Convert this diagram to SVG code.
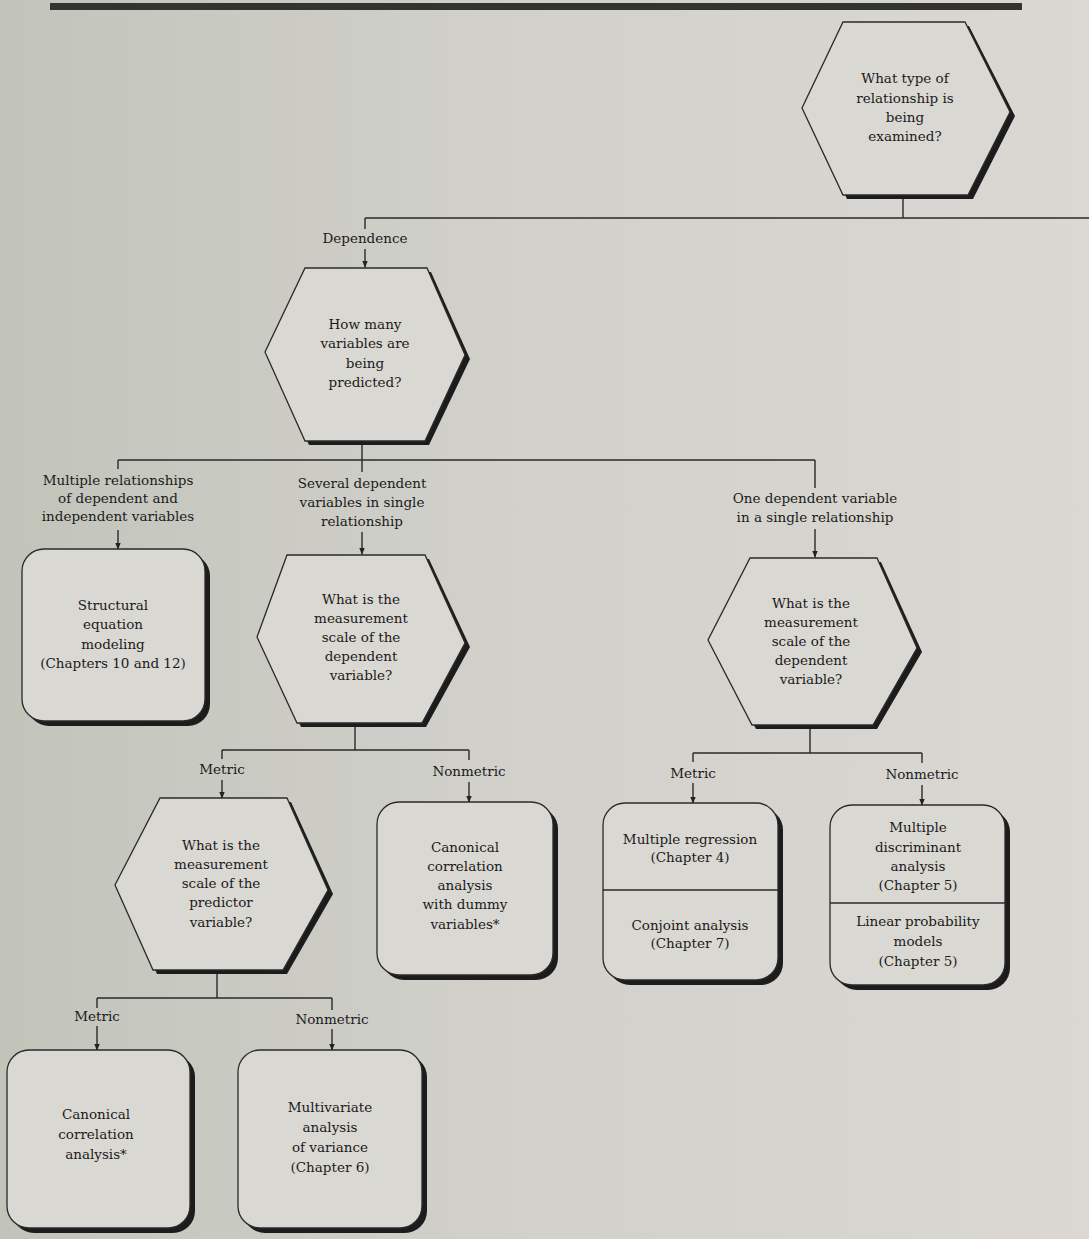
<svg xmlns="http://www.w3.org/2000/svg" width="1089" height="1239" viewBox="0 0 1089 1239">
  <defs>
    <marker id="arrow" viewBox="0 0 10 10" refX="9" refY="5" markerWidth="5" markerHeight="5" orient="auto">
      <path d="M0,1 L10,5 L0,9 z" fill="#222"/>
    </marker>
    <linearGradient id="paper" x1="0" y1="0" x2="1" y2="0">
      <stop offset="0" stop-color="#c2c4ba"/>
      <stop offset="0.45" stop-color="#d1d0cb"/>
      <stop offset="1" stop-color="#dbd8d3"/>
    </linearGradient>
  </defs>
  <style>
    .shadow { fill: #1c1c1c; }
    .shape { fill: #dad8d3; stroke: #2a2a2a; stroke-width: 1.3; }
    .rule { stroke: #2a2a2a; stroke-width: 1.4; fill: none; }
    .wire { stroke: #2a2a2a; stroke-width: 1.4; fill: none; }
    .arrow { stroke: #2a2a2a; stroke-width: 1.4; fill: none; marker-end: url(#arrow); }
    text { font-family: "DejaVu Serif", "Liberation Serif", serif; font-size: 13.5px; fill: #1a1a1a; text-anchor: middle; }
  </style>

  <!-- page -->
  <rect x="0" y="0" width="1089" height="1239" fill="url(#paper)"/>
  <rect x="50" y="3" width="972" height="7" fill="#33342f"/>

  <!-- connectors -->
  <g id="connectors">
    <path class="wire" d="M903 199 V218 M365 218 H1089 M365 218 V229"/>
    <path class="arrow" d="M365 249 V267"/>

    <path class="wire" d="M362 444 V460 M118 460 H815 M118 460 V469 M362 460 V472 M815 460 V488"/>
    <path class="arrow" d="M118 530 V549"/>
    <path class="arrow" d="M362 532 V554"/>
    <path class="arrow" d="M815 529 V557"/>

    <path class="wire" d="M355 726 V750 M222 750 H469 M222 750 V759 M469 750 V760"/>
    <path class="arrow" d="M222 780 V798"/>
    <path class="arrow" d="M469 782 V802"/>

    <path class="wire" d="M810 729 V753 M693 753 H922 M693 753 V762 M922 753 V763"/>
    <path class="arrow" d="M693 783 V803"/>
    <path class="arrow" d="M922 785 V805"/>

    <path class="wire" d="M217 974 V998 M97 998 H332 M97 998 V1008 M332 998 V1010"/>
    <path class="arrow" d="M97 1026 V1050"/>
    <path class="arrow" d="M332 1029 V1050"/>
  </g>

  <!-- branch labels -->
  <g id="labels">
    <text x="365" y="243">Dependence</text>
    <text x="118" y="485">Multiple relationships</text>
    <text x="118" y="503">of dependent and</text>
    <text x="118" y="521">independent variables</text>
    <text x="362" y="488">Several dependent</text>
    <text x="362" y="507">variables in single</text>
    <text x="362" y="526">relationship</text>
    <text x="815" y="503">One dependent variable</text>
    <text x="815" y="522">in a single relationship</text>
    <text x="222" y="774">Metric</text>
    <text x="469" y="776">Nonmetric</text>
    <text x="693" y="778">Metric</text>
    <text x="922" y="779">Nonmetric</text>
    <text x="97" y="1021">Metric</text>
    <text x="332" y="1024">Nonmetric</text>
  </g>

  <!-- decision: relationship type -->
  <g id="q-relationship">
    <polygon class="shadow" points="847,26 969,26 1015,116 973,199 847,199 806,112"/>
    <polygon class="shape" points="843,22 965,22 1010,112 968,195 843,195 802,108"/>
    <text x="905" y="83">What type of</text>
    <text x="905" y="103">relationship is</text>
    <text x="905" y="122">being</text>
    <text x="905" y="141">examined?</text>
  </g>

  <!-- decision: how many variables -->
  <g id="q-how-many">
    <polygon class="shadow" points="309,272 431,272 470,359 429,445 309,445 269,356"/>
    <polygon class="shape" points="305,268 427,268 465,355 425,441 305,441 265,352"/>
    <text x="365" y="329">How many</text>
    <text x="365" y="348">variables are</text>
    <text x="365" y="368">being</text>
    <text x="365" y="387">predicted?</text>
  </g>

  <!-- outcome: structural equation modeling -->
  <g id="sem">
    <rect class="shadow" x="27" y="554" width="183" height="172" rx="22"/>
    <rect class="shape" x="22" y="549" width="183" height="172" rx="22"/>
    <text x="113" y="610">Structural</text>
    <text x="113" y="629">equation</text>
    <text x="113" y="649">modeling</text>
    <text x="113" y="668">(Chapters 10 and 12)</text>
  </g>

  <!-- decision: dependent scale (several dependents) -->
  <g id="q-dep-scale-multi">
    <polygon class="shadow" points="291,559 429,559 470,647 426,727 301,727 261,641"/>
    <polygon class="shape" points="287,555 425,555 465,643 422,723 297,723 257,637"/>
    <text x="361" y="604">What is the</text>
    <text x="361" y="623">measurement</text>
    <text x="361" y="642">scale of the</text>
    <text x="361" y="661">dependent</text>
    <text x="361" y="680">variable?</text>
  </g>

  <!-- decision: dependent scale (single dependent) -->
  <g id="q-dep-scale-single">
    <polygon class="shadow" points="754,562 881,562 922,652 877,729 756,729 712,644"/>
    <polygon class="shape" points="750,558 877,558 917,648 873,725 752,725 708,640"/>
    <text x="811" y="608">What is the</text>
    <text x="811" y="627">measurement</text>
    <text x="811" y="646">scale of the</text>
    <text x="811" y="665">dependent</text>
    <text x="811" y="684">variable?</text>
  </g>

  <!-- decision: predictor scale -->
  <g id="q-pred-scale">
    <polygon class="shadow" points="164,802 291,802 333,894 287,974 157,974 119,889"/>
    <polygon class="shape" points="160,798 287,798 328,890 283,970 153,970 115,885"/>
    <text x="221" y="850">What is the</text>
    <text x="221" y="869">measurement</text>
    <text x="221" y="888">scale of the</text>
    <text x="221" y="907">predictor</text>
    <text x="221" y="927">variable?</text>
  </g>

  <!-- outcome: canonical correlation with dummy variables -->
  <g id="cca-dummy">
    <rect class="shadow" x="382" y="807" width="176" height="173" rx="22"/>
    <rect class="shape" x="377" y="802" width="176" height="173" rx="22"/>
    <text x="465" y="852">Canonical</text>
    <text x="465" y="871">correlation</text>
    <text x="465" y="890">analysis</text>
    <text x="465" y="909">with dummy</text>
    <text x="465" y="929">variables*</text>
  </g>

  <!-- outcome: multiple regression / conjoint -->
  <g id="regression">
    <rect class="shadow" x="608" y="808" width="175" height="177" rx="22"/>
    <rect class="shape" x="603" y="803" width="175" height="177" rx="22"/>
    <line class="rule" x1="603" y1="890" x2="778" y2="890"/>
    <text x="690" y="844">Multiple regression</text>
    <text x="690" y="862">(Chapter 4)</text>
    <text x="690" y="930">Conjoint analysis</text>
    <text x="690" y="948">(Chapter 7)</text>
  </g>

  <!-- outcome: discriminant analysis / linear probability -->
  <g id="discriminant">
    <rect class="shadow" x="835" y="810" width="175" height="180" rx="22"/>
    <rect class="shape" x="830" y="805" width="175" height="180" rx="22"/>
    <line class="rule" x1="830" y1="903" x2="1005" y2="903"/>
    <text x="918" y="832">Multiple</text>
    <text x="918" y="852">discriminant</text>
    <text x="918" y="871">analysis</text>
    <text x="918" y="890">(Chapter 5)</text>
    <text x="918" y="926">Linear probability</text>
    <text x="918" y="946">models</text>
    <text x="918" y="966">(Chapter 5)</text>
  </g>

  <!-- outcome: canonical correlation -->
  <g id="cca">
    <rect class="shadow" x="12" y="1055" width="183" height="178" rx="22"/>
    <rect class="shape" x="7" y="1050" width="183" height="178" rx="22"/>
    <text x="96" y="1119">Canonical</text>
    <text x="96" y="1139">correlation</text>
    <text x="96" y="1159">analysis*</text>
  </g>

  <!-- outcome: MANOVA -->
  <g id="manova">
    <rect class="shadow" x="243" y="1055" width="184" height="178" rx="22"/>
    <rect class="shape" x="238" y="1050" width="184" height="178" rx="22"/>
    <text x="330" y="1112">Multivariate</text>
    <text x="330" y="1132">analysis</text>
    <text x="330" y="1152">of variance</text>
    <text x="330" y="1172">(Chapter 6)</text>
  </g>
</svg>
